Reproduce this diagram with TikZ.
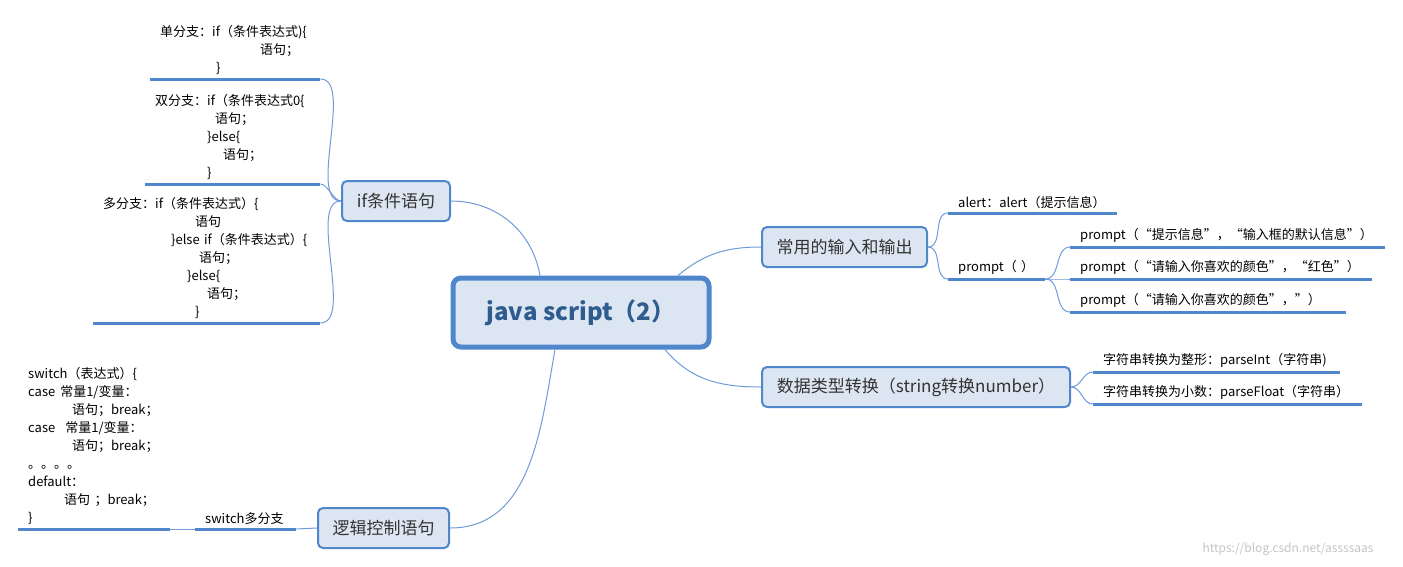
\documentclass[tikz,border=0pt]{standalone}
\usepackage{fontspec}
\setmainfont{Noto Sans CJK SC}
\usepackage{xcolor}
\usepackage{tikz}

\definecolor{mapblue}{HTML}{4F86CC}
\definecolor{linkblue}{HTML}{6F9BD8}
\definecolor{boxfill}{HTML}{DCE6F2}
\definecolor{titleblue}{HTML}{2F5C8F}
\definecolor{marktext}{HTML}{C4C4C4}

\tikzset{
	root/.style={draw=mapblue, line width=5pt, fill=boxfill, rounded corners=8pt, minimum width=256pt, minimum height=69pt, font=\fontsize{24}{28}\selectfont\bfseries, text=titleblue},
	topic/.style={draw=mapblue, line width=2pt, fill=boxfill, rounded corners=5pt, minimum height=40pt, font=\fontsize{17}{20}\selectfont, text=black!80},
	bar/.style={draw=mapblue, line width=3pt},
	link/.style={draw=linkblue, line width=1pt},
	leaf/.style={anchor=south west, align=left, inner xsep=10pt, inner ysep=4pt, font=\fontsize{13}{18}\selectfont, append after command={(\tikzlastnode.south west) edge[bar] (\tikzlastnode.south east)}}
}

\begin{document}
\begin{tikzpicture}[x=1pt, y=1pt]
		\useasboundingbox (0,0) rectangle (1403,-566);
		\node (js) at (581,-312.5) [root] {java script（2）};
		\node (ifbox) at (396,-201) [topic, minimum width=108pt] {if条件语句};
		\node (io) at (844.5,-247) [topic, minimum width=165pt] {常用的输入和输出};
		\node (cast) at (916,-387) [topic, minimum width=308pt] {数据类型转换（string转换number）};
		\node (logic) at (383.5,-528) [topic, minimum width=131pt] {逻辑控制语句};
		
		\node (single) at (150,-79) [leaf, text width=150pt] {单分支：if（条件表达式)\{\\ \hspace*{100pt}语句；\\ \hspace*{56pt}\}};
		\node (double) at (145,-184) [leaf, text width=155pt] {双分支：if（条件表达式0\{\\ \hspace*{60pt}语句；\\ \hspace*{52pt}\}else\{\\ \hspace*{68pt}语句；\\ \hspace*{52pt}\}};
		\node (multi) at (93,-323) [leaf, text width=207pt] {多分支：if（条件表达式）\{\\ \hspace*{92pt}语句\\ \hspace*{68pt}\}else if（条件表达式）\{\\ \hspace*{96pt}语句；\\ \hspace*{84pt}\}else\{\\ \hspace*{104pt}语句；\\ \hspace*{92pt}\}};
		\node (swcode) at (18,-529) [leaf, text width=132pt] {switch（表达式）\{\\ case\hspace*{5pt}常量1/变量：\\ \hspace*{44pt}语句；break；\\ case\hspace*{10pt}常量1/变量：\\ \hspace*{44pt}语句；break；\\ 。。。。\\ default：\\ \hspace*{36pt}语句 ；break；\\ \}};
		\node (swlabel) at (195,-529) [leaf, text width=81pt] {switch多分支};
		
		\node (alert) at (948,-213) [leaf, text width=149pt] {alert：alert（提示信息）};
		\node (prompt) at (948,-279) [leaf, text width=77pt] {prompt（ ）};
		\node (p1) at (1070,-247) [leaf, text width=295pt] {prompt（“提示信息”，“输入框的默认信息”）};
		\node (p2) at (1070,-279) [leaf, text width=282pt] {prompt（“请输入你喜欢的颜色”，“红色”）};
		\node (p3) at (1070,-312) [leaf, text width=256pt] {prompt（“请输入你喜欢的颜色”，”）};
		\node (toint) at (1093,-372) [leaf, text width=227pt] {字符串转换为整形：parseInt（字符串)};
		\node (tofloat) at (1093,-404) [leaf, text width=249pt] {字符串转换为小数：parseFloat（字符串）};
		
		\node (mark) at (1288,-549) [text=marktext, font=\fontsize{12}{14}\selectfont] {https://blog.csdn.net/assssaas};
		
		\draw[link] ([xshift=-41pt]js.north) to[out=100, in=0] (ifbox.east);
		\draw[link] ([xshift=97pt]js.north) to[out=40, in=180] (io.west);
		\draw[link] ([xshift=84pt]js.south) to[out=-50, in=180] (cast.west);
		\draw[link] ([xshift=-26pt]js.south) to[out=-100, in=0] (logic.east);
		
		\draw[link] (ifbox.west) to[out=180, in=0, looseness=0.7] (single.south east);
		\draw[link] (ifbox.west) to[out=180, in=0, looseness=0.7] (double.south east);
		\draw[link] (ifbox.west) to[out=180, in=0, looseness=0.7] (multi.south east);
		\draw[link] (logic.west) -- (swlabel.south east);
		\draw[link] (swlabel.south west) -- (swcode.south east);
		
		\draw[link] (io.east) to[out=0, in=180] (alert.south west);
		\draw[link] (io.east) to[out=0, in=180] (prompt.south west);
		\draw[link] (prompt.south east) to[out=0, in=180] (p1.south west);
		\draw[link] (prompt.south east) to[out=0, in=180] (p2.south west);
		\draw[link] (prompt.south east) to[out=0, in=180] (p3.south west);
		\draw[link] (cast.east) to[out=0, in=180] (toint.south west);
		\draw[link] (cast.east) to[out=0, in=180] (tofloat.south west);
	\end{tikzpicture}
\end{document}
